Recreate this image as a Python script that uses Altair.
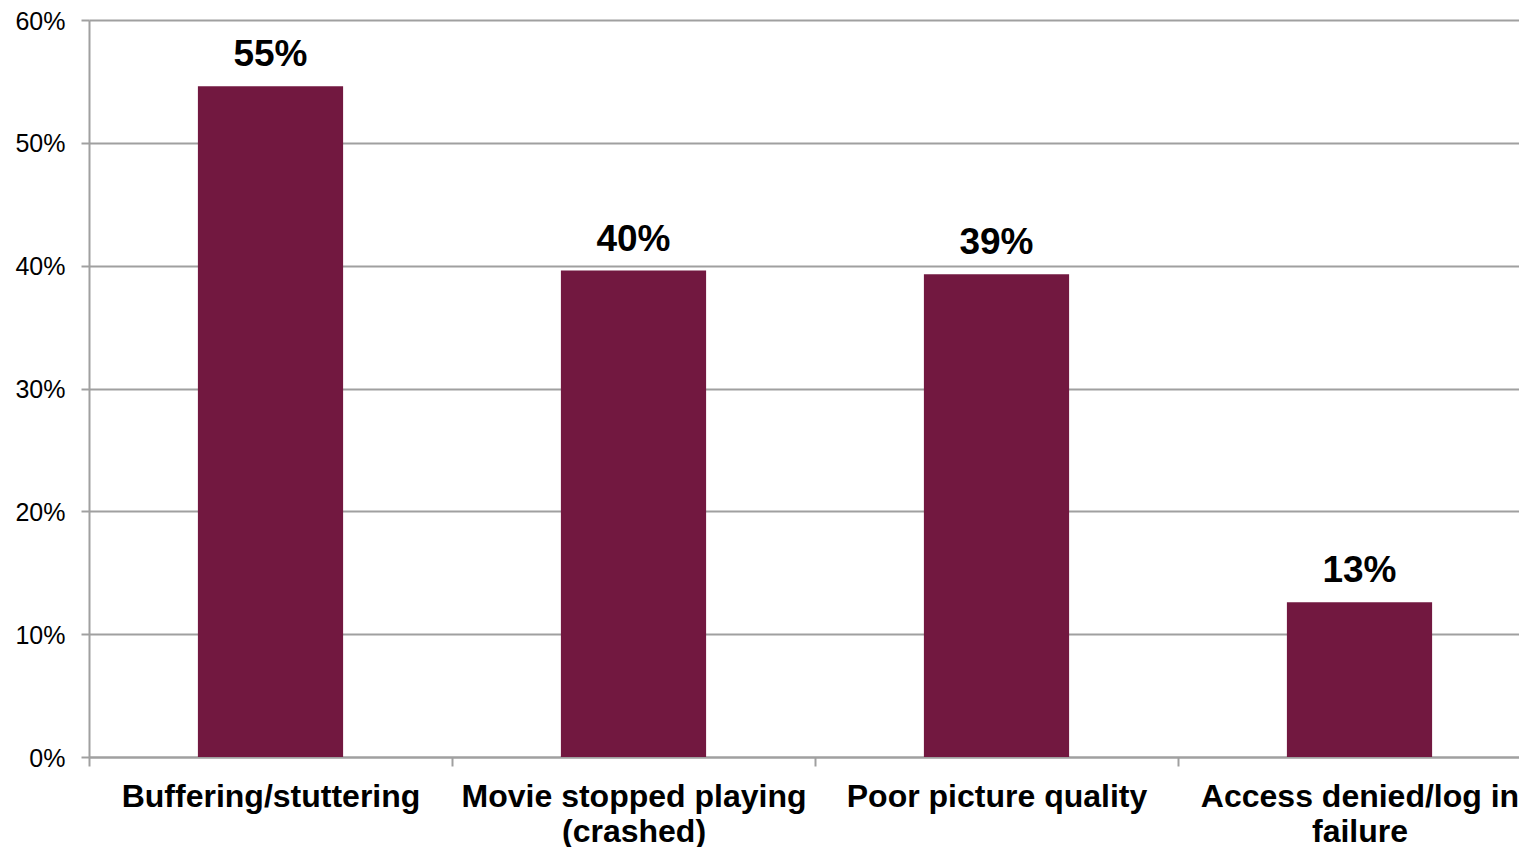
import altair as alt
import pandas as pd

categories = [
    "Buffering/stuttering",
    "Movie stopped playing|(crashed)",
    "Poor picture quality",
    "Access denied/log in|failure",
]
values = [0.546, 0.396, 0.393, 0.126]

df = pd.DataFrame({"category": categories, "value": values})

FONT = "Liberation Sans"
GRID = "#a0a0a0"
BAR = "#721840"

x = alt.X(
    "category:N",
    sort=categories,
    title=None,
    scale=alt.Scale(paddingInner=0, paddingOuter=0),
    axis=alt.Axis(
        labelAngle=0,
        labelExpr="split(datum.label, '|')",
        labelFont=FONT,
        labelFontSize=32,
        labelFontWeight="bold",
        labelColor="#000000",
        labelPadding=15,
        labelLineHeight=35,
        labelLimit=0,
        tickBand="extent",
        tickSize=9,
        tickWidth=2,
        tickColor=GRID,
        domainColor=GRID,
        domainWidth=2,
        grid=False,
    ),
)

y = alt.Y(
    "value:Q",
    title=None,
    scale=alt.Scale(domain=[0, 0.6]),
    axis=alt.Axis(
        format=".0%",
        values=[0, 0.1, 0.2, 0.3, 0.4, 0.5, 0.6],
        labelFont=FONT,
        labelFontSize=25,
        labelColor="#000000",
        labelPadding=16,
        labelOffset=1,
        tickSize=8,
        tickWidth=2,
        tickColor=GRID,
        domainColor=GRID,
        domainWidth=2,
        gridColor=GRID,
        gridWidth=2,
    ),
)

bars = alt.Chart(df).mark_bar(color=BAR, width=alt.RelativeBandSize(0.4)).encode(x=x, y=y)

text = alt.Chart(df).mark_text(
    font=FONT, fontSize=37, fontWeight="bold", color="#000000", baseline="alphabetic", dy=-20
).encode(x=alt.X("category:N", sort=categories), y="value:Q", text=alt.Text("value:Q", format=".0%"))

chart = (
    alt.layer(bars, text)
    .properties(
        width=1452,
        height=737,
        autosize=alt.AutoSizeParams(type="none"),
        padding={"left": 81, "top": 12, "right": -22, "bottom": 90},
    )
    .configure_view(stroke=None)
)

chart.save("out.html", embed_options={"renderer": "svg", "actions": False})
